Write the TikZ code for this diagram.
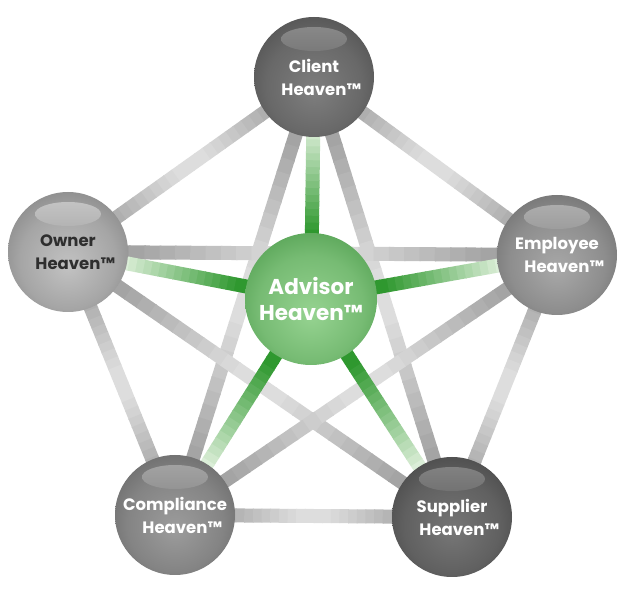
\documentclass[tikz,border=0pt]{standalone}
\usepackage{fontspec}
\setsansfont{Poppins}
\usepackage{tikz}
\usetikzlibrary{calc, backgrounds}
\definecolor{AHink}{HTML}{2E2E2E}
\definecolor{AHbarD}{HTML}{9A9A9A}
\definecolor{AHbarL}{HTML}{DDDDDD}
\definecolor{AHgreenD}{HTML}{2F982F}
\definecolor{AHgreenF}{HTML}{E8F4E4}
\definecolor{AHadvD}{HTML}{3C8F3C}
\definecolor{AHadvL}{HTML}{96D391}
\definecolor{AHclientD}{HTML}{404040}
\definecolor{AHclientL}{HTML}{7E7E7E}
\definecolor{AHownerD}{HTML}{707070}
\definecolor{AHownerL}{HTML}{C2C2C2}
\definecolor{AHemplD}{HTML}{5C5C5C}
\definecolor{AHemplL}{HTML}{A8A8A8}
\definecolor{AHcomplD}{HTML}{575757}
\definecolor{AHcomplL}{HTML}{9C9C9C}
\definecolor{AHsupplD}{HTML}{383838}
\definecolor{AHsupplL}{HTML}{767676}
\colorlet{sphlo}{gray}
\colorlet{sphhi}{white}
\pgfdeclareradialshading[sphlo,sphhi]{glassball}{\pgfpoint{0bp}{-6bp}}{%
  color(0bp)=(sphhi); color(20bp)=(sphhi!65!sphlo); color(40bp)=(sphlo);
  color(50bp)=(sphlo!85!black)}
\tikzset{
  ahball/.style 2 args={
    circle, minimum size=120pt, inner sep=0pt, align=center, text=white,
    font=\sffamily\bfseries\fontsize{16.5}{23}\selectfont,
    /utils/exec={\colorlet{sphlo}{#1}\colorlet{sphhi}{#2}},
    shade, shading=glassball,
    path picture={\shade[top color=sphhi!88!white, bottom color=sphlo!85!sphhi]
      ($(path picture bounding box.center)+(0,38)$) ellipse (33 and 12);}},
  ahcore/.style={
    circle, minimum size=132pt, inner sep=0pt, align=center, text=white,
    font=\sffamily\bfseries\fontsize{21.5}{26}\selectfont,
    /utils/exec={\colorlet{sphlo}{AHadvD}\colorlet{sphhi}{AHadvL}},
    shade, shading=glassball},
  ahbar/.style={line width=14pt, line cap=butt},
}
%% grey spoke between two outer balls, light in the middle
\newcommand{\greybar}[2]{%
  \foreach \i in {0,...,31}{%
    \pgfmathsetmacro\ta{\i/32}%
    \pgfmathsetmacro\tb{min(1,(\i+1.1)/32)}%
    \pgfmathsetmacro\pc{min(100,max(0,140*abs(2*(\i+0.5)/32-1)-15))}%
    \draw[ahbar, color=AHbarD!\pc!AHbarL]
      ($(#1.center)!\ta!(#2.center)$) -- ($(#1.center)!\tb!(#2.center)$);}}
%% green spoke from the core, fading outwards
\newcommand{\greenbar}[2]{%
  \foreach \i in {0,...,31}{%
    \pgfmathsetmacro\ta{\i/32}%
    \pgfmathsetmacro\tb{min(1,(\i+1.1)/32)}%
    \pgfmathsetmacro\pc{min(100,max(0,200*(0.8-(\i+0.5)/32)))}%
    \draw[ahbar, color=AHgreenD!\pc!AHgreenF]
      ($(#1.center)!\ta!(#2.center)$) -- ($(#1.center)!\tb!(#2.center)$);}}

\begin{document}
\begin{tikzpicture}[x=1pt, y=1pt]
  \useasboundingbox (0,0) rectangle (625,590);
  %% Core
  \node[ahcore] (advisor) at (311,291) {Advisor\\Heaven™};
  %% Outer balls
  \node[ahball={AHclientD}{AHclientL}] (client) at (314,513)
        {Client\\Heaven\rlap{™}};
  \node[ahball={AHownerD}{AHownerL}, text=AHink] (owner) at (68,338)
        {Owner\\Heaven\rlap{™}};
  \node[ahball={AHemplD}{AHemplL}] (employee) at (557,335)
        {Employee\\Heaven\rlap{™}};
  \node[ahball={AHcomplD}{AHcomplL}] (compliance) at (175,75)
        {Compliance\\Heaven\rlap{™}};
  \node[ahball={AHsupplD}{AHsupplL}] (supplier) at (452,73)
        {Supplier\\Heaven\rlap{™}};
  %% Spokes
  \begin{scope}[on background layer]
    \greybar{client}{owner}       \greybar{client}{employee}
    \greybar{client}{compliance}  \greybar{client}{supplier}
    \greybar{owner}{employee}     \greybar{owner}{compliance}
    \greybar{owner}{supplier}     \greybar{employee}{compliance}
    \greybar{employee}{supplier}  \greybar{compliance}{supplier}
    \greenbar{advisor}{client}    \greenbar{advisor}{owner}
    \greenbar{advisor}{employee}  \greenbar{advisor}{compliance}
    \greenbar{advisor}{supplier}
  \end{scope}
\end{tikzpicture}
\end{document}
